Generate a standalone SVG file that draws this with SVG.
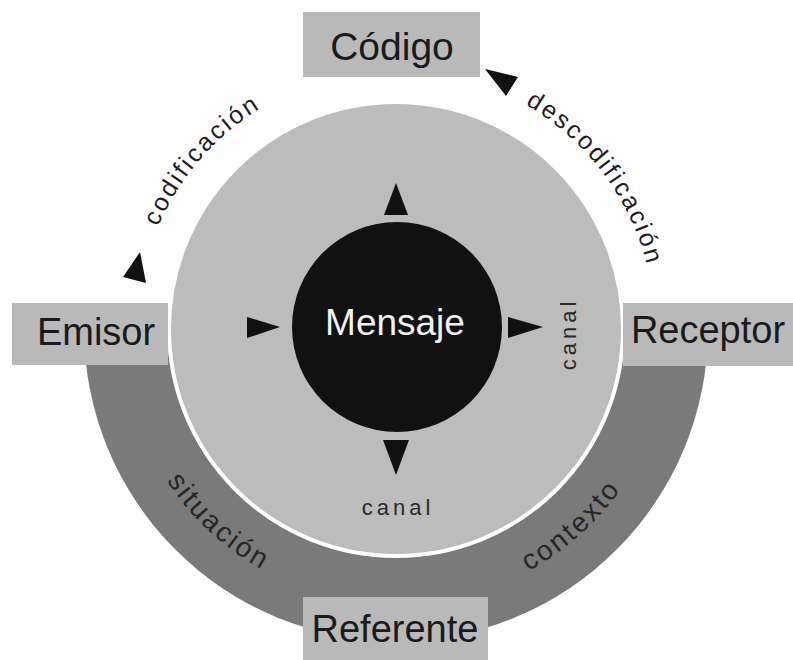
<svg xmlns="http://www.w3.org/2000/svg" width="793" height="660" viewBox="0 0 793 660">
<style>
.box{fill:#b9b9b9;}
.lbl{font-family:"Liberation Sans",Arial,sans-serif;font-size:38px;fill:#1a1a1a;text-anchor:middle;}
.arc{font-family:"Liberation Sans",Arial,sans-serif;font-size:25px;fill:#1e1e1e;letter-spacing:2.5px;}
.band{font-family:"Liberation Sans",Arial,sans-serif;font-size:28px;fill:#262626;letter-spacing:2.5px;}
.canal{font-family:"Liberation Sans",Arial,sans-serif;font-size:22px;fill:#2a2a2a;letter-spacing:4px;text-anchor:middle;}
.tri{fill:#111;}
</style>
<defs>
<path id="pCod" d="M 137 329 A 259 259 0 0 1 359.95 72.5" fill="none"/>
<path id="pDes" d="M 440.97 73.9 A 259 259 0 0 1 653.6 356.07" fill="none"/>
<path id="pSit" d="M 122.05 352.97 A 276 276 0 0 0 394.08 605" fill="none"/>
<path id="pCon" d="M 412.31 604.5 A 276 276 0 0 0 667.8 376.75" fill="none"/>
</defs>
<rect width="793" height="660" fill="#ffffff"/>
<g id="contexto-band">
<path d="M 84 329 A 312 312 0 0 0 708 329 Z" fill="#7a7a7a"/>
</g>
<g id="canal-circle">
<circle cx="396" cy="329" r="227" fill="#bcbcbc" stroke="#ffffff" stroke-width="4"/>
</g>
<g id="mensaje">
<circle cx="397" cy="327" r="105" fill="#111111"/>
<text class="lbl" x="395" y="335" style="fill:#f2f2f2;font-size:37px">Mensaje</text>
</g>
<g id="codigo">
<rect class="box" x="303" y="12" width="177" height="65"/>
<text class="lbl" x="392" y="60" style="font-size:39px">Código</text>
</g>
<g id="emisor">
<rect class="box" x="12" y="303" width="156" height="62"/>
<text class="lbl" x="96" y="345">Emisor</text>
</g>
<g id="receptor">
<rect class="box" x="623" y="303" width="170" height="63"/>
<text class="lbl" x="708" y="343">Receptor</text>
</g>
<g id="referente">
<rect class="box" x="303" y="597" width="185" height="63"/>
<text class="lbl" x="395" y="642">Referente</text>
</g>
<g id="connectors">
<polygon class="tri" points="396,183 384,215 408,215"/>
<polygon class="tri" points="396,475 383,440 409,440"/>
<polygon class="tri" points="280,327 247,317 247,338"/>
<polygon class="tri" points="543,327 508,317 508,338"/>
<polygon class="tri" points="140,252 123,277 146,283"/>
<polygon class="tri" points="485,69 518,77 506,96"/>
</g>
<g id="labels">
<text class="arc"><textPath href="#pCod" startOffset="50%" text-anchor="middle">codificación</textPath></text>
<text class="arc"><textPath href="#pDes" startOffset="50%" text-anchor="middle">descodificación</textPath></text>
<text class="band"><textPath href="#pSit" startOffset="50%" text-anchor="middle">situación</textPath></text>
<text class="band"><textPath href="#pCon" startOffset="50%" text-anchor="middle">contexto</textPath></text>
<text class="canal" x="398" y="515">canal</text>
<text class="canal" transform="translate(576,334) rotate(-90)" x="0" y="0">canal</text>
</g>
</svg>
